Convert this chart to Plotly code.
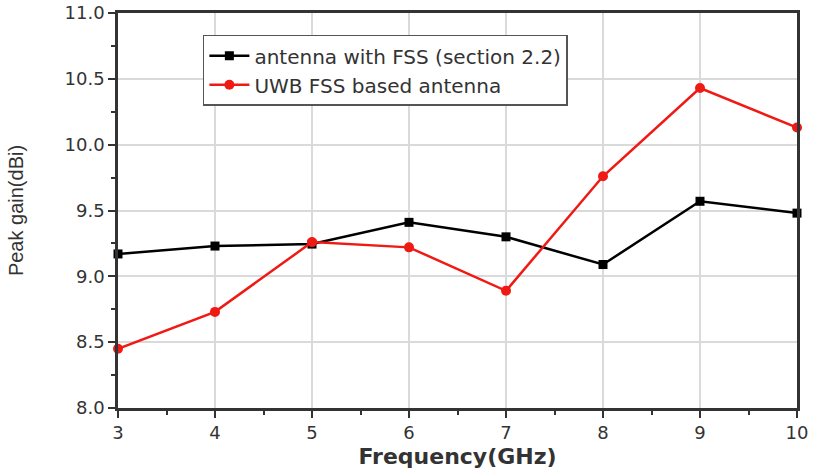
import plotly.graph_objects as go

freq = [3, 4, 5, 6, 7, 8, 9, 10]
gain_fss = [9.17, 9.23, 9.245, 9.41, 9.30, 9.09, 9.57, 9.48]
gain_uwb = [8.45, 8.73, 9.26, 9.22, 8.89, 9.76, 10.43, 10.13]
name_fss = "antenna with FSS (section 2.2)"
name_uwb = "UWB FSS based antenna"
x_ticks = [3, 4, 5, 6, 7, 8, 9, 10]
y_ticks = [8.0, 8.5, 9.0, 9.5, 10.0, 10.5, 11.0]

fig = go.Figure()
fig.add_trace(go.Scatter(x=freq, y=gain_fss, name=name_fss, mode="lines+markers",
                         line=dict(color="black", width=2.5),
                         marker=dict(symbol="square", size=9, color="black"),
                         cliponaxis=False))
fig.add_trace(go.Scatter(x=freq, y=gain_uwb, name=name_uwb, mode="lines+markers",
                         line=dict(color="#f01a14", width=2.5),
                         marker=dict(symbol="circle", size=10, color="#f01a14"),
                         cliponaxis=False))

axis_common = dict(showline=True, linecolor="#333", linewidth=2.5, mirror=True,
                   ticks="outside", ticklen=7, tickwidth=2, tickcolor="#333",
                   showgrid=True, gridcolor="#dadada", gridwidth=1.5, zeroline=False,
                   automargin=False,
                   tickfont=dict(family="DejaVu Sans", size=18, color="#333"))

fig.update_xaxes(range=[3, 10], tickvals=x_ticks,
                 title=dict(text="<b>Frequency(GHz)</b>",
                            font=dict(family="DejaVu Sans", size=22, color="#333")),
                 minor=dict(ticks="outside", ticklen=4, tickwidth=2, tickcolor="#333", dtick=0.5, showgrid=False),
                 **axis_common)
fig.update_yaxes(range=[8.0, 11.0], tickvals=y_ticks, tickformat=".1f",
                 title=dict(text="Peak gain(dBi)", standoff=36,
                            font=dict(family="Liberation Sans", size=20, color="#333")),
                 minor=dict(ticks="outside", ticklen=4, tickwidth=2, tickcolor="#333", dtick=0.25, showgrid=False),
                 **axis_common)

fig.update_layout(
    width=814, height=469,
    margin=dict(l=118, r=17, t=13, b=61),
    paper_bgcolor="white", plot_bgcolor="white",
    legend=dict(x=0.125, y=0.945, xanchor="left", yanchor="top",
                bgcolor="white", bordercolor="#555", borderwidth=1.5,
                font=dict(family="DejaVu Sans", size=20, color="#333"),
                tracegroupgap=0, itemwidth=40),
    showlegend=True,
)

fig.write_html("out.html")
